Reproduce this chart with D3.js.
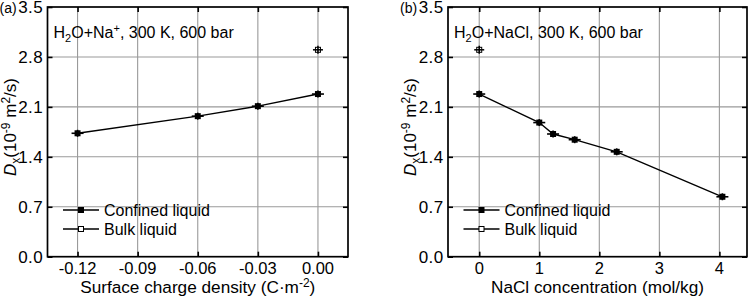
<!DOCTYPE html>
<html><head><meta charset="utf-8">
<script src="https://cdn.jsdelivr.net/npm/d3@7/dist/d3.min.js"></script>
<style>
body{margin:0;background:#fff;}
svg{display:block;font-family:"Liberation Sans",Arial,sans-serif;}
</style></head>
<body><svg id="c" width="750" height="296"></svg>
<script>
// ---- data ----
const yTicks = [0.0, 0.7, 1.4, 2.1, 2.8, 3.5];
const chargeTicks = [-0.12, -0.09, -0.06, -0.03, 0.00];
const concTicks = [0, 1, 2, 3, 4];
const surfaceCharge = [-0.12, -0.06, -0.03, 0.00];
const confinedA = [1.73, 1.97, 2.11, 2.28];
const bulkAx = [0.00];
const bulkA = [2.90];
const concentration = [0, 1.0, 1.23, 1.59, 2.29, 4.05];
const confinedB = [2.28, 1.88, 1.72, 1.64, 1.47, 0.84];
const bulkBx = [0];
const bulkB = [2.90];
const legendLabels = ["Confined liquid", "Bulk liquid"];

const svg = d3.select("#c");
const FS = 16;
const topY = 7, bottomY = 256.7;

function panel(opt){
  const g = svg.append("g");
  const x = d3.scaleLinear().domain(opt.xdomain).range([opt.left, opt.right]);
  const y = d3.scaleLinear().domain([0, 3.5]).range([bottomY, topY]);
  // grid
  g.selectAll(".gx").data(opt.xticks).join("line")
    .attr("x1", d=>x(d)).attr("x2", d=>x(d)).attr("y1", topY).attr("y2", bottomY)
    .attr("stroke", "#9a9a9a").attr("stroke-width", 1.1);
  g.selectAll(".gy").data(yTicks.filter(v=>v>0 && v<3.5)).join("line")
    .attr("y1", d=>y(d)).attr("y2", d=>y(d)).attr("x1", opt.left).attr("x2", opt.right)
    .attr("stroke", "#9a9a9a").attr("stroke-width", 1.1);
  // axes with inward ticks
  const axB = d3.axisBottom(x).tickValues(opt.xticks).tickSize(-5).tickFormat("");
  const axT = d3.axisTop(x).tickValues(opt.xticks).tickSize(-5).tickFormat("");
  const axL = d3.axisLeft(y).tickValues(yTicks).tickSize(-5).tickFormat("");
  const axR = d3.axisRight(y).tickValues(yTicks).tickSize(-5).tickFormat("");
  [[axB,`translate(0,${bottomY})`],[axT,`translate(0,${topY})`],[axL,`translate(${opt.left},0)`],[axR,`translate(${opt.right},0)`]]
    .forEach(([a,t])=>{
      const ag = g.append("g").attr("transform", t).call(a);
      ag.select(".domain").remove();
      ag.selectAll("line").attr("stroke","#000").attr("stroke-width",1.6);
    });
  g.append("rect").attr("x", opt.left).attr("y", topY)
    .attr("width", opt.right-opt.left).attr("height", bottomY-topY)
    .attr("fill","none").attr("stroke","#000").attr("stroke-width",1.7);
  // tick labels
  g.selectAll(".xl").data(opt.xticks).join("text")
    .attr("x", d=>x(d)).attr("y", 274).attr("text-anchor","middle")
    .attr("font-size", 16.5).text(opt.xfmt);
  g.selectAll(".yl").data(yTicks).join("text")
    .attr("x", opt.left-4.5).attr("y", d=>y(d)+6).attr("text-anchor","end")
    .attr("font-size", 17).attr("letter-spacing", 0.4).text(d=>d3.format(".1f")(d));
  // panel label
  g.append("text").attr("x", opt.left-48).attr("y", y(3.5)+6)
    .attr("font-size", 14).text(opt.label);
  // y title
  const yt = g.append("text").attr("transform", `translate(${opt.left-32},${127}) rotate(-90)`)
    .attr("text-anchor","middle").attr("font-size", 17);
  yt.append("tspan").attr("font-style","italic").text("D");
  yt.append("tspan").attr("font-size", 12).attr("dy", 4).text("x");
  yt.append("tspan").attr("dy", -4).text("(10");
  yt.append("tspan").attr("font-size", 12).attr("dy", -6).text("-9");
  yt.append("tspan").attr("dy", 6).text(" m");
  yt.append("tspan").attr("font-size", 12).attr("dy", -6).text("2");
  yt.append("tspan").attr("dy", 6).text("/s)");
  // x title
  const xt = g.append("text").attr("x", (opt.left+opt.right)/2).attr("y", 293)
    .attr("text-anchor","middle").attr("font-size", 17.2);
  opt.xtitle(xt);
  // annotation
  const an = g.append("text").attr("x", opt.left+6).attr("y", 38).attr("font-size", FS);
  opt.annot(an);
  // series line
  const pts = opt.cx.map((v,i)=>[x(v), y(opt.cy[i])]);
  g.append("path").attr("d", d3.line()(pts)).attr("fill","none")
    .attr("stroke","#000").attr("stroke-width",1.4);
  // confined markers with error bars
  pts.forEach(([px,py])=>{
    g.append("line").attr("x1",px-6).attr("x2",px+6).attr("y1",py).attr("y2",py).attr("stroke","#000").attr("stroke-width",1.6);
    g.append("line").attr("x1",px).attr("x2",px).attr("y1",py-3.5).attr("y2",py+3.5).attr("stroke","#000").attr("stroke-width",1.6);
    g.append("rect").attr("x",px-3).attr("y",py-3).attr("width",6).attr("height",6).attr("fill","#000");
  });
  // bulk markers
  opt.bx.forEach((v,i)=>{
    const px=x(v), py=y(opt.by[i]);
    g.append("line").attr("x1",px-5).attr("x2",px+5).attr("y1",py).attr("y2",py).attr("stroke","#000").attr("stroke-width",1.5);
    g.append("line").attr("x1",px).attr("x2",px).attr("y1",py-4).attr("y2",py+4).attr("stroke","#000").attr("stroke-width",1.5);
    g.append("rect").attr("x",px-2.5).attr("y",py-2.5).attr("width",5).attr("height",5).attr("fill","none").attr("stroke","#000").attr("stroke-width",1);
  });
  // legend
  const lx0 = opt.left+15.5, lx1 = opt.left+51.5, lm = (lx0+lx1)/2;
  legendLabels.forEach((lab,i)=>{
    const ly = 210 + i*19;
    g.append("line").attr("x1",lx0).attr("x2",lx1).attr("y1",ly).attr("y2",ly).attr("stroke","#000").attr("stroke-width",1.3);
    g.append("rect").attr("x",lm-2.5).attr("y",ly-2.5).attr("width",5).attr("height",5)
      .attr("fill", i===0?"#000":"#fff").attr("stroke","#000").attr("stroke-width",1);
    g.append("text").attr("x", lx1+5).attr("y", ly+6).attr("font-size",FS).text(lab);
  });
}

panel({
  left:47.5, right:348, xdomain:[-0.135,0.015], xticks:chargeTicks,
  xfmt:d=>d3.format(".2f")(d).replace("−","-"), label:"(a)",
  cx:surfaceCharge, cy:confinedA, bx:bulkAx, by:bulkA,
  xtitle:t=>{t.append("tspan").text("Surface charge density (C·m");
    t.append("tspan").attr("font-size",12).attr("dy",-6).text("-2");
    t.append("tspan").attr("dy",6).text(")");},
  annot:t=>{t.append("tspan").text("H");
    t.append("tspan").attr("font-size",11).attr("dy",4).text("2");
    t.append("tspan").attr("dy",-4).text("O+Na");
    t.append("tspan").attr("font-size",11).attr("dy",-6).text("+");
    t.append("tspan").attr("dy",6).text(", 300 K, 600 bar");}
});
panel({
  left:448, right:747, xdomain:[-0.52,4.46], xticks:concTicks,
  xfmt:d=>d3.format("d")(d), label:"(b)",
  cx:concentration, cy:confinedB, bx:bulkBx, by:bulkB,
  xtitle:t=>{t.text("NaCl concentration (mol/kg)");},
  annot:t=>{t.append("tspan").text("H");
    t.append("tspan").attr("font-size",11).attr("dy",4).text("2");
    t.append("tspan").attr("dy",-4).text("O+NaCl, 300 K, 600 bar");}
});
</script></body></html>
